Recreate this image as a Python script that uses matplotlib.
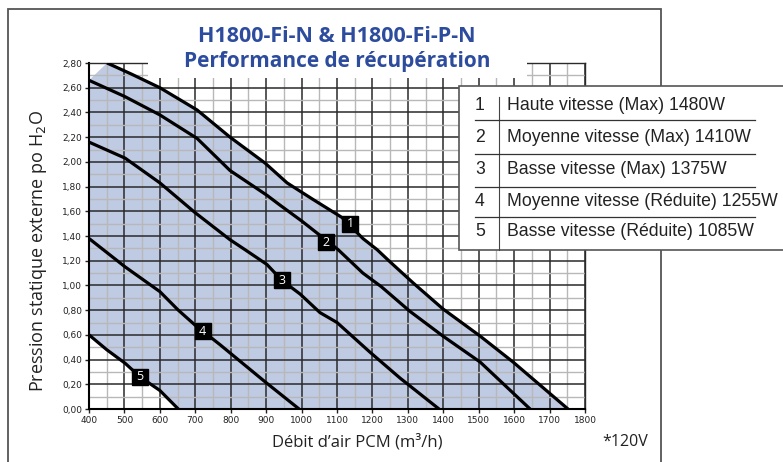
import matplotlib
matplotlib.use("Agg")
import matplotlib.pyplot as plt
from matplotlib.patches import Rectangle
from matplotlib.lines import Line2D
from matplotlib.ticker import MultipleLocator, FuncFormatter

# courbes (debit m3/h, pression po H2O)
c1_x = [451, 520, 600, 705, 798, 897, 959, 1030, 1114, 1173, 1213, 1250, 1315, 1399, 1504, 1597, 1752]
c1_y = [2.80, 2.71, 2.60, 2.42, 2.20, 1.99, 1.83, 1.70, 1.55, 1.38, 1.29, 1.19, 1.02, 0.81, 0.59, 0.38, 0.00]
c2_x = [400, 500, 600, 705, 798, 902, 939, 1001, 1072, 1103, 1173, 1225, 1306, 1399, 1504, 1645]
c2_y = [2.66, 2.53, 2.38, 2.19, 1.93, 1.73, 1.65, 1.52, 1.36, 1.29, 1.10, 0.99, 0.79, 0.59, 0.38, 0.00]
c3_x = [400, 502, 600, 699, 798, 840, 902, 945, 996, 1052, 1100, 1193, 1278, 1388]
c3_y = [2.16, 2.03, 1.83, 1.59, 1.37, 1.29, 1.17, 1.04, 0.93, 0.78, 0.70, 0.46, 0.25, 0.00]
c4_x = [400, 502, 600, 652, 699, 770, 897, 993]
c4_y = [1.38, 1.15, 0.95, 0.80, 0.68, 0.52, 0.22, 0.00]
c5_x = [400, 450, 502, 544, 600, 652]
c5_y = [0.60, 0.48, 0.37, 0.26, 0.15, 0.00]

curves = [(c1_x, c1_y), (c2_x, c2_y), (c3_x, c3_y), (c4_x, c4_y), (c5_x, c5_y)]
tags = ['1', '2', '3', '4', '5']
tag_x = [1137, 1070, 945, 721, 544]
tag_y = [1.50, 1.35, 1.04, 0.63, 0.26]

legend_labels = ['Haute vitesse (Max) 1480W',
                 'Moyenne vitesse (Max) 1410W',
                 'Basse vitesse (Max) 1375W',
                 'Moyenne vitesse (Réduite) 1255W',
                 'Basse vitesse (Réduite) 1085W']

W, H = 783, 462
fig = plt.figure(figsize=(W / 100, H / 100), dpi=100)
ax = fig.add_axes([89 / W, 1 - 409 / H, (585 - 89) / W, (409 - 63) / H])

# zone ombree : entre courbe 1 et courbe 5
shade_x = [400] + c1_x + c5_x[::-1]
shade_y = [2.66] + c1_y + c5_y[::-1]
ax.fill(shade_x, shade_y, color='#bfcae3', lw=0, zorder=0)

ax.set_xlim(400, 1800)
ax.set_ylim(0, 2.8)
ax.xaxis.set_major_locator(MultipleLocator(100))
ax.xaxis.set_minor_locator(MultipleLocator(50))
ax.yaxis.set_major_locator(MultipleLocator(0.2))
ax.yaxis.set_minor_locator(MultipleLocator(0.1))
ax.yaxis.set_major_formatter(FuncFormatter(lambda v, p: '{:.2f}'.format(v).replace('.', ',')))
ax.grid(which='minor', color='#b8b8b8', lw=1.0, zorder=1)
ax.grid(which='major', color='#2a2a2a', lw=1.1, zorder=1)
ax.set_axisbelow(True)
ax.tick_params(which='major', labelsize=6.5, length=3, width=1, pad=2, colors='#222222')
ax.tick_params(which='minor', length=0)
for s in ax.spines.values():
    s.set_color('#2a2a2a')
    s.set_linewidth(1.0)
ax.spines['left'].set_color('black')
ax.spines['bottom'].set_color('black')
ax.spines['left'].set_linewidth(1.5)
ax.spines['bottom'].set_linewidth(1.5)

for (x, y) in curves:
    ax.plot(x, y, color='black', lw=2.3, solid_capstyle='butt', zorder=3)

ax.plot(tag_x, tag_y, ls='none', marker='s', ms=12, mfc='black', mec='black',
        zorder=4)
for t, x, y in zip(tags, tag_x, tag_y):
    ax.text(x, y, t, color='white', fontsize=9, ha='center', va='center',
            family='Open Sans', zorder=5)

fig.text(357 / W, 1 - 442 / H, 'Débit d’air PCM (m³/h)', fontsize=12,
         family='Open Sans', ha='center', va='center', color='#222222')
fig.text(39 / W, 1 - 251 / H, 'Pression statique externe po H$_2$O',
         fontsize=13, family='Open Sans', rotation=90, ha='center',
         va='center', color='#222222')

# cadre exterieur
fig.patches.append(Rectangle((8 / W, -0.1), (661 - 8) / W, 1.1 - 9 / H,
                             transform=fig.transFigure, fill=False,
                             ec='#555555', lw=1.3, zorder=10))

# titre sur fond blanc
fig.patches.append(Rectangle((148 / W, 1 - 78 / H), (527 - 148) / W, 60 / H,
                             transform=fig.transFigure, fc='white', ec='none',
                             zorder=11))
fig.text(337 / W, 1 - 36 / H, 'H1800-Fi-N & H1800-Fi-P-N', color='#2d4c9e',
         fontsize=15.5, weight='bold', family='Open Sans', ha='center',
         va='center', zorder=12)
fig.text(337 / W, 1 - 61 / H, 'Performance de récupération', color='#2d4c9e',
         fontsize=15, weight='bold', family='Open Sans', ha='center',
         va='center', zorder=12)

# legende
fig.patches.append(Rectangle((459 / W, 1 - 250 / H), (800 - 459) / W, (250 - 86) / H,
                             transform=fig.transFigure, fc='white', ec='#555555',
                             lw=1.2, zorder=11))
fig.lines.append(Line2D([499 / W, 499 / W], [1 - 97 / H, 1 - 250 / H],
                        transform=fig.transFigure, color='#444444', lw=0.8,
                        zorder=12))
for yy in [120, 154, 187, 217]:
    fig.lines.append(Line2D([475 / W, 755 / W], [1 - yy / H, 1 - yy / H],
                            transform=fig.transFigure, color='#333333', lw=0.9,
                            zorder=12))
row_y = [106, 137, 170, 201, 231]
for t, lab, yy in zip(tags, legend_labels, row_y):
    fig.text(480 / W, 1 - yy / H, t, fontsize=12.7, family='Liberation Sans',
             ha='center', va='center', color='#222222', zorder=13)
    fig.text(507 / W, 1 - yy / H, lab, fontsize=12.7, family='Liberation Sans',
             ha='left', va='center', color='#222222', zorder=13)

fig.text(625 / W, 1 - 442 / H, '*120V', fontsize=11.5, family='Open Sans',
         ha='center', va='center', color='#222222')

fig.savefig('out.png', dpi=100)
